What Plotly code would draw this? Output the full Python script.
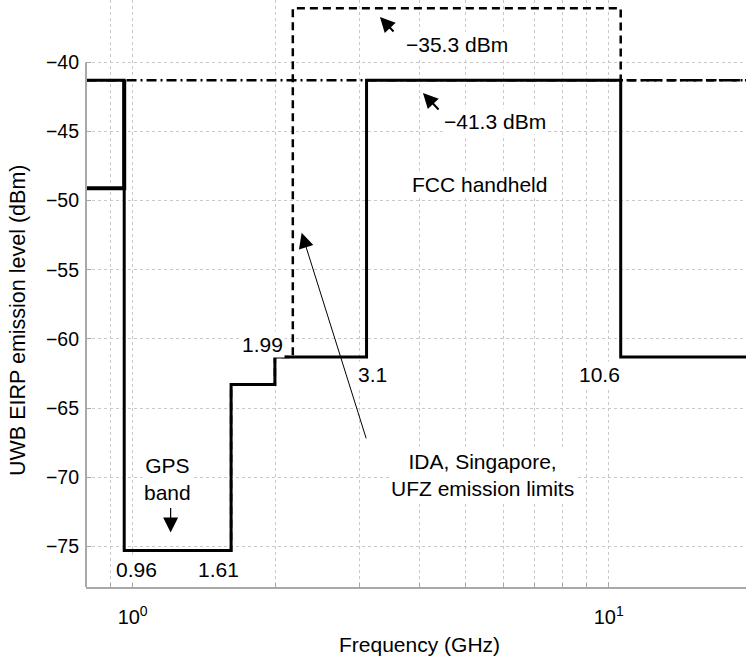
import numpy as np
import plotly.graph_objects as go

# ---------------- data ----------------
fcc_freq = [0.8, 0.96, 1.61, 1.99, 3.1, 10.6, 20]          # GHz, step edges
fcc_level = [-41.3, -75.3, -63.3, -61.3, -41.3, -61.3, -61.3]  # dBm
ida_freq = [0.96, 1.61, 1.99, 2.17, 10.6, 20]
ida_level = [-75.3, -63.3, -61.3, -36.1, -41.3, -41.3]
low_freq = [0.8, 0.96]
low_level = [-49.1, -41.3]
ref_freq = [0.8, 20]
ref_level = [-41.3, -41.3]

y_ticks = [-75, -70, -65, -60, -55, -50, -45, -40]
x_major = [1, 10]
x_major_text = ["10<sup>0</sup>", "10<sup>1</sup>"]
x_minor = [0.8, 0.9, 2, 3, 4, 5, 6, 7, 8, 9, 20]

FONT = "Liberation Sans, Arial, Helvetica, sans-serif"
GRID = "#c8c8c8"
AX = "#a8a8a8"
Y_RANGE = [-77.93, -35.5]
X_RANGE = [-0.098, 1.2885]

fig = go.Figure()
fig.add_trace(go.Scatter(x=ref_freq, y=ref_level, mode="lines",
                         line=dict(color="black", width=2.5, dash="10px,4px,2px,4px"),
                         showlegend=False, hoverinfo="skip"))
fig.add_trace(go.Scatter(x=ida_freq, y=ida_level, mode="lines", line_shape="hv",
                         line=dict(color="black", width=2.5, dash="8px,5px"),
                         showlegend=False, hoverinfo="skip"))
fig.add_trace(go.Scatter(x=low_freq, y=low_level, mode="lines", line_shape="hv",
                         line=dict(color="black", width=4),
                         showlegend=False, hoverinfo="skip"))
fig.add_trace(go.Scatter(x=fcc_freq, y=fcc_level, mode="lines", line_shape="hv",
                         line=dict(color="black", width=3),
                         showlegend=False, hoverinfo="skip"))

ann = []
def text(x, y, s, size=21):
    ann.append(dict(x=x, y=y, xref="x", yref="y", text=s, showarrow=False,
                    font=dict(family=FONT, size=size, color="black"),
                    bgcolor="white", borderpad=1, xanchor="center", yanchor="middle"))

def arrow(x, y, ax, ay, width, size):
    ann.append(dict(x=x, y=y, xref="x", yref="y", text="", showarrow=True,
                    ax=ax, ay=ay, arrowhead=2, arrowwidth=width, arrowsize=size,
                    arrowcolor="black", standoff=0))

text(0.6813, -38.75, "\u221235.3 dBm")
text(0.7612, -44.31, "\u221241.3 dBm")
text(0.7296, -48.83, "FCC handheld")
text(0.7349, -69.82, "IDA, Singapore,<br>UFZ emission limits")
text(0.0742, -70.11, "GPS<br>band")
text(0.009, -76.65, "0.96")
text(0.1803, -76.65, "1.61")
text(0.2737, -60.39, "1.99")
text(0.5036, -62.56, "3.1")
text(0.9817, -62.59, "10.6")

arrow(0.5195, -36.73, 15, 16, 2, 1.5)
arrow(0.6099, -42.22, 17, 18, 2, 1.5)
arrow(0.0798, -73.99, 0, -26, 1.2, 2.5)
arrow(0.355, -52.33, 65, 207, 1, 3)

# axis titles
ann.append(dict(x=-0.103, y=-58.7, xref="paper", yref="y", text="UWB EIRP emission level (dBm)",
                textangle=-90, showarrow=False, xanchor="center", yanchor="middle",
                font=dict(family=FONT, size=21.5, color="black")))
ann.append(dict(x=0.506, y=-0.098, xref="paper", yref="paper", text="Frequency (GHz)",
                showarrow=False, xanchor="center", yanchor="middle",
                font=dict(family=FONT, size=21, color="black")))

shapes = [
    # blank the area above the top tick (-40) so the grid stops there
    dict(type="rect", xref="paper", yref="y", x0=0, x1=1, y0=y_ticks[-1] + 0.06, y1=Y_RANGE[1],
         fillcolor="white", line=dict(width=0), layer="between"),
    # left axis line up to the top tick
    dict(type="line", xref="paper", yref="y", x0=0, x1=0, y0=Y_RANGE[0], y1=y_ticks[-1],
         line=dict(color=AX, width=2), layer="above"),
]

fig.update_layout(
    width=746, height=660,
    margin=dict(l=86, r=0, t=0, b=73),
    paper_bgcolor="white", plot_bgcolor="white",
    font=dict(family=FONT, size=19, color="black"),
    annotations=ann, shapes=shapes,
    xaxis=dict(type="log", range=X_RANGE, tickmode="array", tickvals=x_major,
               ticktext=x_major_text, ticks="inside", ticklen=5, tickcolor=AX,
               showgrid=True, gridcolor=GRID, griddash="dot", gridwidth=1,
               showline=True, linecolor=AX, linewidth=2, zeroline=False,
               ticklabelstandoff=11, tickfont=dict(size=20),
               minor=dict(tickmode="array", tickvals=x_minor, ticks="inside", ticklen=4,
                          tickcolor=AX, showgrid=True, gridcolor=GRID, griddash="dot",
                          gridwidth=1)),
    yaxis=dict(range=Y_RANGE, tickmode="array", tickvals=y_ticks,
               ticks="inside", ticklen=5, tickcolor=AX,
               showgrid=True, gridcolor=GRID, griddash="dot", gridwidth=1,
               showline=False, zeroline=False, ticklabelstandoff=6,
               tickfont=dict(size=19.5)),
)

fig.write_html("out.html")
